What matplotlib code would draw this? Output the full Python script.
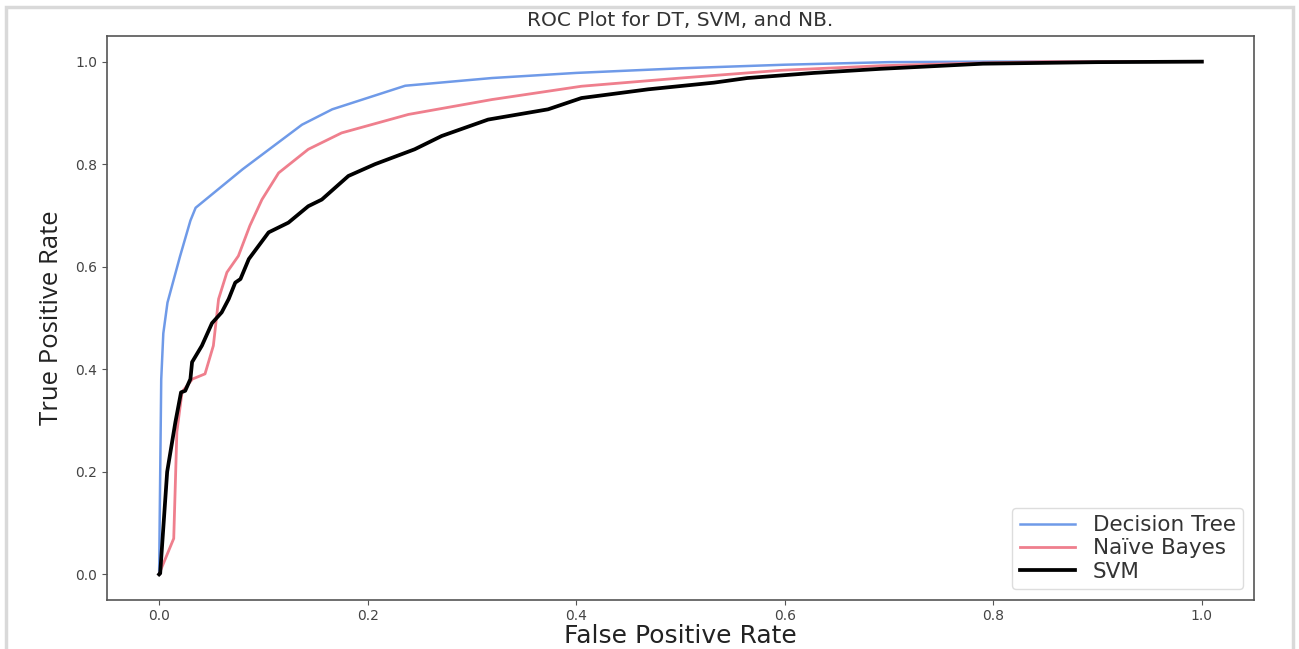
import matplotlib.pyplot as plt
from matplotlib.patches import Rectangle

# Decision Tree ROC points
dt_fpr = [0.0, 0.0005, 0.002, 0.004, 0.008, 0.012, 0.02, 0.03, 0.035,
          0.08, 0.137, 0.166, 0.236, 0.319, 0.4, 0.5, 0.6, 0.7, 0.8, 1.0]
dt_tpr = [0.0, 0.1, 0.38, 0.47, 0.53, 0.56, 0.62, 0.69, 0.715,
          0.79, 0.877, 0.907, 0.953, 0.968, 0.978, 0.987, 0.994, 0.999, 1.0, 1.0]

# Naive Bayes
nb_fpr = [0.0, 0.001, 0.014, 0.017, 0.022, 0.032, 0.044, 0.052, 0.057, 0.065,
          0.076, 0.087, 0.0986, 0.1146, 0.143, 0.175, 0.239, 0.319, 0.405,
          0.5, 0.596, 0.692, 0.78, 0.85, 1.0]
nb_tpr = [0.0, 0.006, 0.07, 0.278, 0.356, 0.381, 0.391, 0.446, 0.537, 0.589,
          0.621, 0.68, 0.731, 0.783, 0.829, 0.861, 0.897, 0.926, 0.952,
          0.968, 0.983, 0.992, 0.997, 1.0, 1.0]

# SVM
svm_fpr = [0.0, 0.001, 0.0077, 0.0156, 0.021, 0.025, 0.030, 0.0316, 0.041,
           0.0507, 0.060, 0.0667, 0.073, 0.078, 0.086, 0.105, 0.111, 0.124,
           0.143, 0.156, 0.1815, 0.207, 0.245, 0.271, 0.3155, 0.373, 0.405,
           0.469, 0.532, 0.564, 0.628, 0.692, 0.79, 0.9, 1.0]
svm_tpr = [0.0, 0.002, 0.2, 0.297, 0.355, 0.358, 0.381, 0.414, 0.446,
           0.49, 0.511, 0.537, 0.569, 0.576, 0.615, 0.667, 0.673, 0.686,
           0.718, 0.731, 0.777, 0.80, 0.829, 0.855, 0.887, 0.907, 0.929,
           0.946, 0.959, 0.968, 0.978, 0.986, 0.996, 0.999, 1.0]

fig = plt.figure(figsize=(12.99, 6.49), dpi=100)
ax = fig.add_axes([107/1299, 1 - 600/649, (1254 - 107)/1299, (600 - 36)/649])

ax.plot(dt_fpr, dt_tpr, color='#6f9ae8', linewidth=1.8, label='Decision Tree')
ax.plot(nb_fpr, nb_tpr, color='#ef7f8d', linewidth=2.0, label='Naïve Bayes')
ax.plot(svm_fpr, svm_tpr, color='black', linewidth=2.7, label='SVM')

ax.set_xticks([0.0, 0.2, 0.4, 0.6, 0.8, 1.0])
ax.set_yticks([0.0, 0.2, 0.4, 0.6, 0.8, 1.0])
ax.tick_params(labelsize=10, labelcolor='#444444', color='#555555')
ax.tick_params(axis='x', pad=3)
for s in ax.spines.values():
    s.set_color('#555555')
    s.set_linewidth(1.2)

ax.set_title('ROC Plot for DT, SVM, and NB.', fontsize=14.5, color='#333333', pad=7)
ax.set_xlabel('False Positive Rate', fontsize=18, color='#222222', labelpad=1)
ax.set_ylabel('True Positive Rate', fontsize=18.5, family='Open Sans', color='#222222',
              labelpad=8)

leg = ax.legend(loc='lower right', fontsize=15.5, handlelength=2.6, labelspacing=0.15,
                borderpad=0.35, handletextpad=0.8, framealpha=1, edgecolor='#dddddd')
for t in leg.get_texts():
    t.set_color('#333333')

# light grey frame around the whole picture
fig.patches.append(Rectangle((6/1299, -0.1), 1287/1299, 1.1 - 7/649,
                             transform=fig.transFigure, fill=False,
                             edgecolor='#d9d9d9', linewidth=2.5))

fig.savefig('out.png', dpi=100)
